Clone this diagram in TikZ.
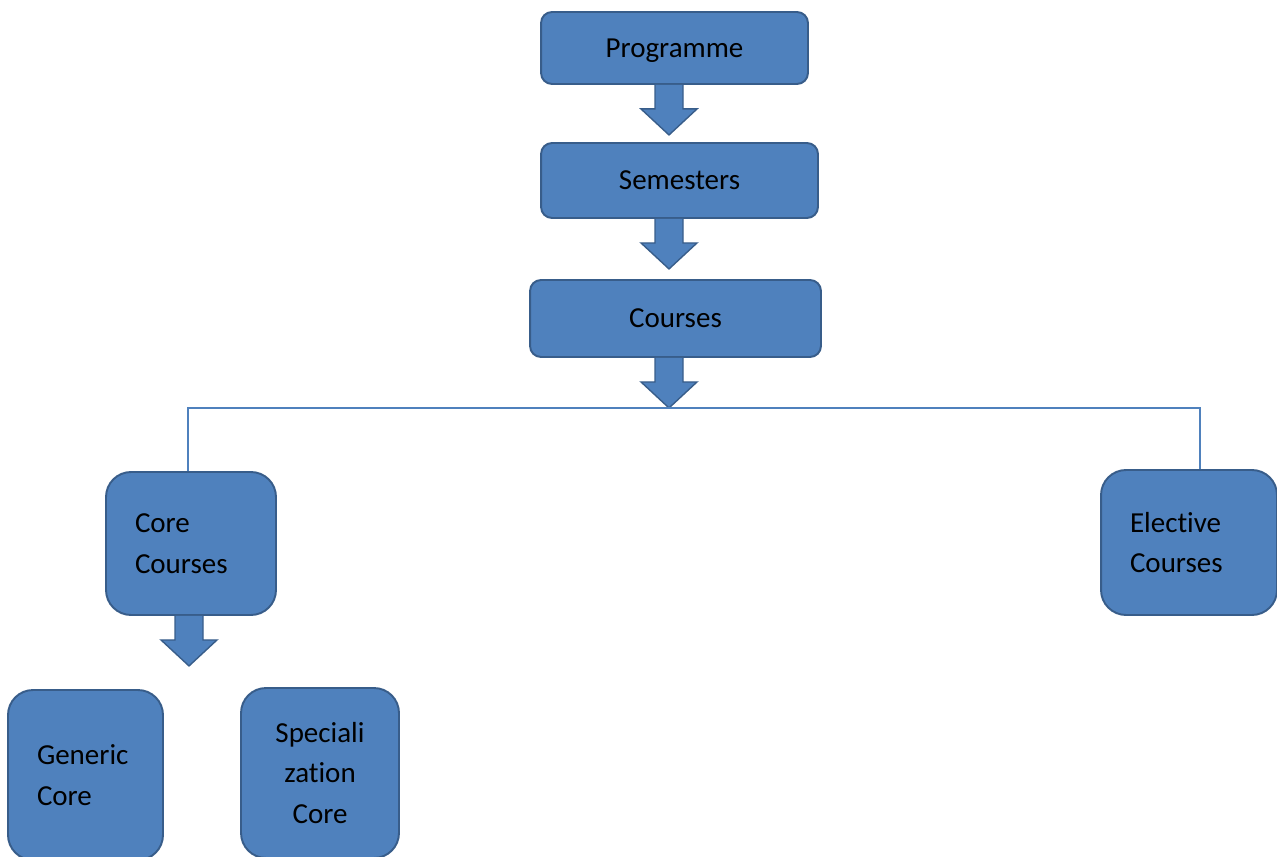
\documentclass[tikz,border=0pt]{standalone}
\usepackage{fontspec}
\setmainfont{Carlito}[RawFeature=-liga]
\usepackage{tikz}
\usetikzlibrary{calc}
\usepackage{xcolor}

\definecolor{boxfill}{HTML}{4F81BD}
\definecolor{boxline}{HTML}{385D8A}

\tikzset{
  box/.style={draw=boxline, fill=boxfill, line width=1.1pt, rounded corners=0.22cm,
    inner sep=0pt, font=\fontsize{16.5}{23}\selectfont},
  bigbox/.style={box, rounded corners=0.5cm},
  arrowblk/.style={draw=boxline, fill=boxfill, line width=0.8pt, line join=miter},
  link/.style={draw=boxfill, line width=0.6pt},
  pics/blockdown/.style={code={
    \draw[arrowblk] (-14,0) -- (-14,24) -- (-28,24) -- (0,50) -- (28,24) -- (14,24) -- (14,0);
  }}
}

\begin{document}
\begin{tikzpicture}[x=0.02cm, y=-0.02cm]

	\useasboundingbox (0,0) rectangle (1277,857);
	\clip (0,0) rectangle (1277,857);

	% top chain
	\node[box, minimum width=5.34cm, minimum height=1.44cm, text depth=0pt] (prog) at (674.5,48) {Programme};
	\node[box, minimum width=5.54cm, minimum height=1.5cm] (sem) at (679.5,180.5) {Semesters};
	\node[box, minimum width=5.82cm, minimum height=1.54cm] (crs) at (675.5,318.5) {Courses};

	\pic at ($(prog.south)+(-5.5,0)$) {blockdown};
	\pic at ($(sem.south)+(-10.5,0)$) {blockdown};
	\pic at ($(crs.south)+(-6.5,0)$) {blockdown};

	% second level
	\node[bigbox, minimum width=3.4cm, minimum height=2.86cm,
	    text width=2.24cm, inner xsep=0.58cm, align=left] (core) at (191,543.5) {Core\\Courses};
	\node[bigbox, minimum width=3.52cm, minimum height=2.9cm,
	    text width=2.36cm, inner xsep=0.58cm, align=left] (elect) at (1189,542.5) {Elective\\Courses};

	\coordinate (busL) at (188,408);
	\coordinate (busR) at (1200,408);
	\draw[link] (core.north -| busL) -- (busL) -- (busR) -- (elect.north -| busR);

	\pic at ($(core.south)+(-2,0)$) {blockdown};

	% third level
	\node[bigbox, minimum width=3.1cm, minimum height=3.4cm,
	    text width=1.94cm, inner xsep=0.58cm, align=left] (gen) at (85.5,775) {Generic\\Core};
	\node[bigbox, minimum width=3.16cm, minimum height=3.4cm,
	    align=center] (spec) at (320,773) {Speciali\\zation\\Core};

\end{tikzpicture}
\end{document}
